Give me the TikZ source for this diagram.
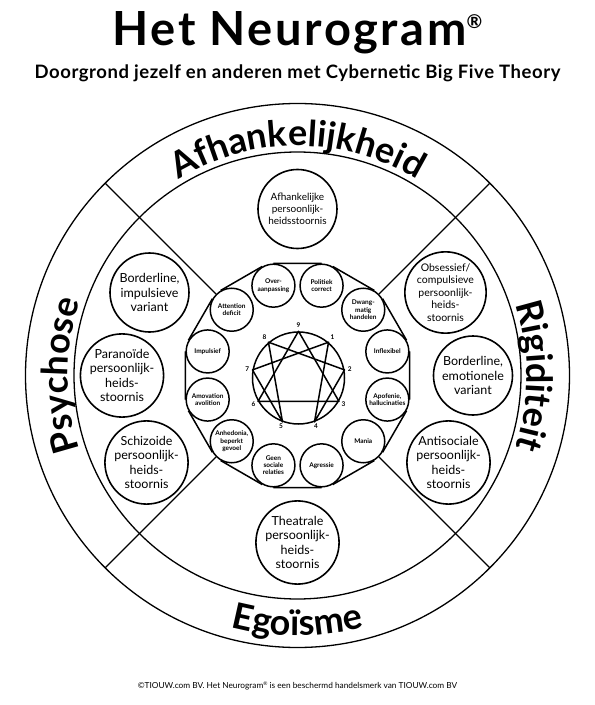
\documentclass[tikz,border=0pt]{standalone}
\usepackage{fontspec}
\setmainfont{Lato}
\usetikzlibrary{decorations.text}
\newcommand\ringfont{\fontsize{36}{36}\selectfont\bfseries}

\begin{document}
\begin{tikzpicture}[x=1pt, y=1pt,
  bigcirc/.style={circle, draw, line width=1.6pt, fill=white, minimum size=79pt,
    inner sep=0pt, align=center, font=\fontsize{12.5}{14.5}\selectfont},
  smallcirc/.style={circle, draw, line width=1.5pt, fill=white, minimum size=43pt,
    inner sep=0pt, align=center, font=\fontsize{6.5}{7.2}\selectfont\bfseries},
  numlbl/.style={font=\fontsize{6.5}{7}\selectfont\bfseries, inner sep=0pt},
  ring/.style={line width=1.3pt}]
  \useasboundingbox (-297.5,-329.5) rectangle (297.5,375.5);

  % title
  \node[anchor=base, font=\fontsize{47}{47}\selectfont\bfseries\addfontfeature{LetterSpace=5.5}]
    (title) at (0,330) {Het Neurogram\raisebox{17pt}{\fontsize{19}{19}\selectfont ®}};
  \node[anchor=base, font=\fontsize{18.5}{18.5}\selectfont\bfseries\addfontfeature{LetterSpace=3}]
    (subtitle) at (0,297) {Doorgrond jezelf en anderen met Cybernetic Big Five Theory};

  % ring
  \draw[ring] (0,0) circle[radius=272pt];
  \draw[ring] (0,0) circle[radius=223.5pt];
  \coordinate (ul) at (135:272);
  \coordinate (ur) at (45:272);
  \coordinate (ll) at (225:272);
  \coordinate (lr) at (315:272);

  \path[decorate, decoration={text along path, text align=center,
      text={|\ringfont|Afhankelijkheid}}]
    (150:229.5) arc[start angle=150, end angle=30, radius=229.5pt];
  \path[decorate, decoration={text along path, text align=center,
      text={|\ringfont|Psychose}}]
    (215:229.5) arc[start angle=215, end angle=145, radius=229.5pt];
  \path[decorate, decoration={text along path, text align=center,
      text={|\ringfont|Rigiditeit}}]
    (35:229.5) arc[start angle=35, end angle=-35, radius=229.5pt];
  \path[decorate, decoration={text along path, text align=center,
      text={|\ringfont|Egoïsme}}]
    (235:260) arc[start angle=235, end angle=305, radius=260pt];

  % personality disorders
  \node[bigcirc, font=\fontsize{10}{12}\selectfont] (afh) at (0,166.5)
    {Afhankelijke\\persoonlijk-\\heidsstoornis};
  \node[bigcirc] (bordimp) at (-148,83) {Borderline,\\impulsieve\\variant};
  \node[bigcirc] (paran) at (-175.5,0) {Paranoïde\\persoonlijk-\\heids-\\stoornis};
  \node[bigcirc] (schiz) at (-151,-87) {Schizoide\\persoonlijk-\\heids-\\stoornis};
  \node[bigcirc] (theat) at (0,-167) {Theatrale\\persoonlijk-\\heids-\\stoornis};
  \node[bigcirc] (antis) at (151,-87) {Antisociale\\persoonlijk-\\heids-\\stoornis};
  \node[bigcirc] (bordemo) at (175.5,0) {Borderline,\\emotionele\\variant};
  \node[bigcirc, font=\fontsize{10.5}{12.5}\selectfont] (obses) at (148,83)
    {Obsessief/\\compulsieve\\persoonlijk-\\heids-\\stoornis};

  % symptoms
  \node[smallcirc] (inflex) at (15:93) {Inflexibel};
  \node[smallcirc] (dwang) at (45:93) {Dwang-\\matig\\handelen};
  \node[smallcirc] (polit) at (75:93) {Politiek\\correct};
  \node[smallcirc] (over) at (105:93) {Over-\\aanpassing};
  \node[smallcirc] (attn) at (135:93) {Attention\\deficit};
  \node[smallcirc] (impuls) at (165:93) {Impulsief};
  \node[smallcirc] (amov) at (195:93) {Amovation\\avolition};
  \node[smallcirc] (anhed) at (225:93) {Anhedonia,\\beperkt\\gevoel};
  \node[smallcirc] (geen) at (255:93) {Geen\\sociale\\relaties};
  \node[smallcirc] (agres) at (285:93) {Agressie};
  \node[smallcirc] (mania) at (315:93) {Mania};
  \node[smallcirc] (apof) at (345:93) {Apofenie,\\hallucinaties};
  \draw[line width=1.5pt] (inflex.30) -- (dwang.30) (dwang.60) -- (polit.60)
    (polit.90) -- (over.90) (over.120) -- (attn.120) (attn.150) -- (impuls.150)
    (impuls.180) -- (amov.180) (amov.210) -- (anhed.210) (anhed.240) -- (geen.240)
    (geen.270) -- (agres.270) (agres.300) -- (mania.300) (mania.330) -- (apof.330)
    (apof.0) -- (inflex.0);
  \draw[ring] (ul) -- (attn);
  \draw[ring] (ur) -- (dwang);
  \draw[ring] (ll) -- (anhed);
  \draw[ring] (lr) -- (mania);

  % enneagram
  \node[circle, draw, line width=1.5pt, minimum size=92pt, inner sep=0pt] (enn) at (1,-2.5) {};
  \coordinate (e9) at (enn.90);
  \coordinate (e1) at (enn.50);
  \coordinate (e2) at (enn.10);
  \coordinate (e3) at (enn.-30);
  \coordinate (e4) at (enn.-70);
  \coordinate (e5) at (enn.-110);
  \coordinate (e6) at (enn.-150);
  \coordinate (e7) at (enn.170);
  \coordinate (e8) at (enn.130);
  \draw[line width=1.5pt, line join=round] (e9) -- (e3) -- (e6) -- cycle;
  \draw[line width=1.5pt, line join=round] (e1) -- (e4) -- (e2) -- (e8) -- (e5) -- (e7) -- cycle;
  \node[numlbl] (n9) at ([shift={(90:53)}]enn.center) {9};
  \node[numlbl] (n1) at ([shift={(50:53)}]enn.center) {1};
  \node[numlbl] (n2) at ([shift={(10:52)}]enn.center) {2};
  \node[numlbl] (n3) at ([shift={(-30:52)}]enn.center) {3};
  \node[numlbl] (n4) at ([shift={(-70:51)}]enn.center) {4};
  \node[numlbl] (n5) at ([shift={(-110:51)}]enn.center) {5};
  \node[numlbl] (n6) at ([shift={(-150:52)}]enn.center) {6};
  \node[numlbl] (n7) at ([shift={(170:52)}]enn.center) {7};
  \node[numlbl] (n8) at ([shift={(130:53)}]enn.center) {8};

  % footer
  \node[anchor=base, font=\fontsize{8.3}{9}\selectfont] (copy) at (0,-312.5)
    {©TIOUW.com BV. Het Neurogram\raisebox{3pt}{\fontsize{5}{5}\selectfont ®} is een beschermd handelsmerk van TIOUW.com BV};
\end{tikzpicture}
\end{document}
